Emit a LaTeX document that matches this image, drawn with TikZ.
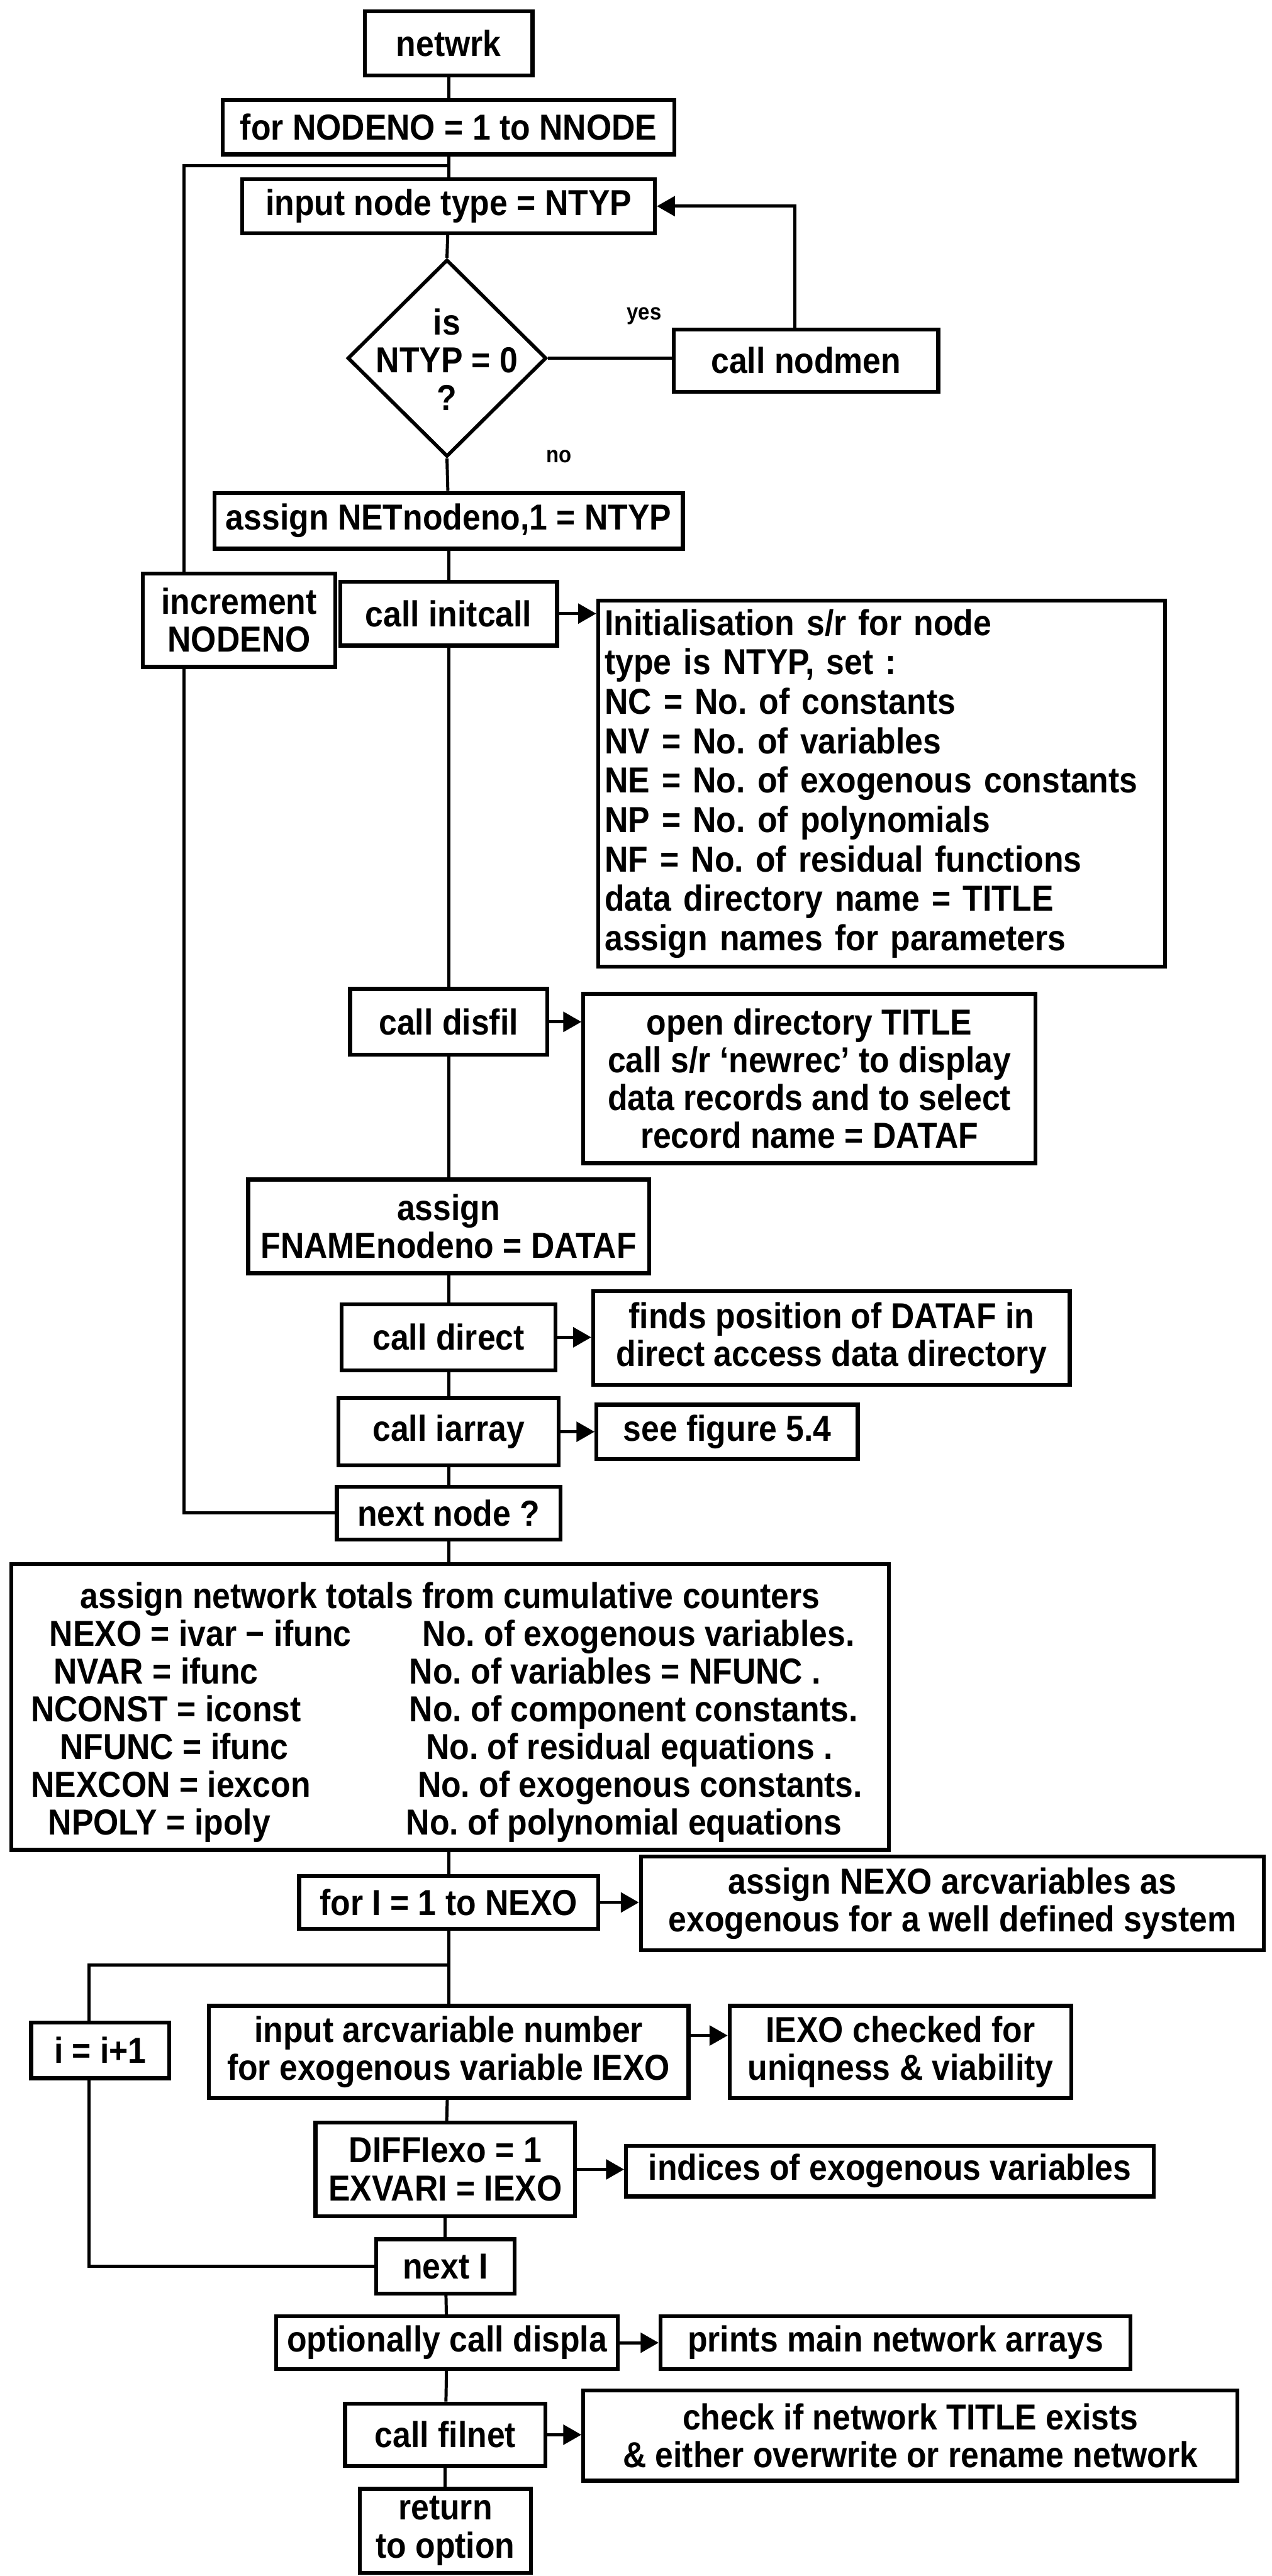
\documentclass[tikz,border=0pt]{standalone}
\usepackage{fontspec}
\newfontfamily\flow{Liberation Sans}[FakeStretch=0.9]
\usetikzlibrary{arrows.meta,shapes.geometric}
\begin{document}
\begin{tikzpicture}[x=1pt,y=-1pt,
  every node/.style={font=\flow\bfseries\frenchspacing\fontsize{22}{23}\selectfont},
  bx/.style={draw,line width=2.4pt,inner sep=2pt,align=center},
  ln/.style={line width=1.9pt},
  arr/.style={line width=1.9pt,-{Triangle[length=11pt,width=12pt]}},
  txt/.style={inner sep=0pt},
  lbl/.style={inner sep=0pt,font=\flow\bfseries\fontsize{14}{15}\selectfont},
]
\fill[white] (0,0) rectangle (774,1568);
\useasboundingbox (0,0) rectangle (774,1568);

% main column
\node[bx,minimum width=102pt,minimum height=39pt] (netwrk) at (273,26.5) {netwrk};
\node[bx,minimum width=275pt,minimum height=33pt] (forN) at (273,77.5) {for NODENO = 1 to NNODE};
\node[bx,minimum width=251pt,minimum height=33pt] (input) at (273,125.5) {input node type = NTYP};
\node[draw,line width=2.2pt,diamond,minimum width=121pt,minimum height=120pt,inner sep=0pt] (dia) at (272,218) {};
\node[txt,align=center] (diatext) at (272,219) {is\\NTYP = 0\\?};
\node[bx,minimum width=161pt,minimum height=38pt] (nodmen) at (490.5,219.5) {call nodmen};
\node[lbl] (yes) at (392,192.5) {yes};
\node[lbl] (no) at (340,278) {no};
\node[bx,minimum width=285pt,minimum height=34pt] (assignNET) at (273,317) {assign NETnodeno,1 = NTYP};
\node[bx,minimum width=117pt,minimum height=57pt] (incr) at (145.5,377.5) {increment\\NODENO};
\node[bx,minimum width=132pt,minimum height=39pt] (initcall) at (273,373.5) {call initcall};
\node[bx,minimum width=345pt,minimum height=223pt,inner sep=4pt,align=left,text width=337pt,
  font=\flow\bfseries\frenchspacing\fontsize{22}{24}\selectfont] (initbox) at (536.5,477)
  {Initialisation s/r for node\\type is NTYP, set :\\NC = No. of constants\\NV = No. of variables\\NE = No. of exogenous constants\\NP = No. of polynomials\\NF = No. of residual functions\\data directory name = TITLE\\assign names for parameters};
\node[bx,minimum width=120pt,minimum height=40pt] (disfil) at (273,622) {call disfil};
\node[bx,minimum width=275pt,minimum height=103pt] (opendir) at (492.5,656.5)
  {open directory TITLE\\call s/r ‘newrec’ to display\\data records and to select\\record name = DATAF};
\node[bx,minimum width=244pt,minimum height=57pt] (fname) at (273,746.5) {assign\\FNAMEnodeno = DATAF};
\node[bx,minimum width=130pt,minimum height=40pt] (direct) at (273,814) {call direct};
\node[bx,minimum width=290pt,minimum height=57pt] (finds) at (506,814.5) {finds position of DATAF in\\direct access data directory};
\node[bx,minimum width=134pt,minimum height=41pt] (iarray) at (273,871.5) {call iarray};
\node[bx,minimum width=159pt,minimum height=33pt] (seefig) at (442.5,871.5) {see figure 5.4};
\node[bx,minimum width=136pt,minimum height=32pt] (nextnode) at (273,921) {next node ?};

% totals box
\node[bx,minimum width=534pt,minimum height=174pt] (totals) at (274,1039) {};
\node[txt,anchor=base] (t0) at (274,979) {assign network totals from cumulative counters};
\node[txt,anchor=base] (l1) at (122,1002) {NEXO = ivar − ifunc};
\node[txt,anchor=base] (l2) at (95,1025) {NVAR = ifunc};
\node[txt,anchor=base] (l3t) at (101,1048) {NCONST = iconst};
\node[txt,anchor=base] (l4t) at (106,1071) {NFUNC = ifunc};
\node[txt,anchor=base] (l5t) at (104,1094) {NEXCON = iexcon};
\node[txt,anchor=base] (l6t) at (97,1117) {NPOLY = ipoly};
\node[txt,anchor=base west] (r1) at (257,1002) {No. of exogenous variables.};
\node[txt,anchor=base west] (r2) at (249,1025) {No. of variables = NFUNC .};
\node[txt,anchor=base west] (r3) at (249,1048) {No. of component constants.};
\node[txt,anchor=base west] (r4) at (259,1071) {No. of residual equations .};
\node[txt,anchor=base west] (r5) at (254,1094) {No. of exogenous constants.};
\node[txt,anchor=base west] (r6) at (247,1117) {No. of polynomial equations};

\node[bx,minimum width=182pt,minimum height=32pt] (forI) at (273,1158) {for I = 1 to NEXO};
\node[bx,minimum width=379pt,minimum height=57pt] (anexo) at (579.5,1158.5) {assign NEXO arcvariables as\\exogenous for a well defined system};
\node[bx,minimum width=84pt,minimum height=34pt] (iinc) at (61,1248) {i = i+1};
\node[bx,minimum width=292pt,minimum height=56pt] (inarc) at (273,1249) {input arcvariable number\\for exogenous variable IEXO};
\node[bx,minimum width=208pt,minimum height=56pt] (iexo) at (548,1249) {IEXO checked for\\uniqness \& viability};
\node[bx,minimum width=158pt,minimum height=57pt] (diff) at (271,1320.5) {DIFFIexo = 1\\EXVARI = IEXO};
\node[bx,minimum width=321pt,minimum height=31pt] (indices) at (541.5,1321.5) {indices of exogenous variables};
\node[bx,minimum width=84pt,minimum height=33pt] (nexti) at (271,1379.5) {next I};
\node[bx,minimum width=208pt,minimum height=32pt] (displa) at (272,1426) {optionally call displa};
\node[bx,minimum width=286pt,minimum height=32pt] (prints) at (545,1426) {prints main network arrays};
\node[bx,minimum width=122pt,minimum height=38pt] (filnet) at (271,1482) {call filnet};
\node[bx,minimum width=398pt,minimum height=55pt] (checkif) at (554,1482.5) {check if network TITLE exists\\\& either overwrite or rename network};
\node[bx,minimum width=104pt,minimum height=51pt] (ret) at (271,1540.5) {return\\to option};

% coordinates for loops
\coordinate (j1) at (273,101);
\coordinate (c1) at (112,101);
\coordinate (c2) at (112,921);
\coordinate (j2) at (272,1196);
\coordinate (c3) at (54,1196);
\coordinate (c4) at (54,1379.5);

% connectors
\draw[ln] (netwrk) -- (forN);
\draw[ln] (forN) -- (input);
\draw[ln] (j1) -- (c1) -- (c1 |- incr.north);
\draw[ln] (c1 |- incr.south) -- (c2) -- (nextnode.west);
\draw[ln] (input) -- (dia.north);
\draw[ln] (dia.east) -- (nodmen.west |- dia.east);
\draw[arr] ([xshift=-7pt]nodmen.north) |- (input.east);
\draw[ln] (dia.south) -- (assignNET);
\draw[ln] (assignNET) -- (initcall);
\draw[arr] (initcall.east) -- (initcall.east -| initbox.west);
\draw[ln] (initcall) -- (disfil);
\draw[arr] (disfil.east) -- (disfil.east -| opendir.west);
\draw[ln] (disfil) -- (fname);
\draw[ln] (fname) -- (direct);
\draw[arr] (direct.east) -- (direct.east -| finds.west);
\draw[ln] (direct) -- (iarray);
\draw[arr] (iarray.east) -- (iarray.east -| seefig.west);
\draw[ln] (iarray) -- (nextnode);
\draw[ln] (nextnode) -- (totals.north -| nextnode);
\draw[ln] (totals.south -| forI) -- (forI);
\draw[arr] (forI.east) -- (forI.east -| anexo.west);
\draw[ln] (forI) -- (inarc);
\draw[ln] (j2) -- (c3) -- (c3 |- iinc.north);
\draw[ln] (c3 |- iinc.south) -- (c4) -- (nexti.west);
\draw[arr] ([yshift=10pt]inarc.east) -- ([yshift=10pt]inarc.east -| iexo.west);
\draw[ln] (inarc) -- (diff);
\draw[arr] (diff.east) -- (diff.east -| indices.west);
\draw[ln] (diff) -- (nexti);
\draw[ln] (nexti) -- (displa);
\draw[arr] (displa.east) -- (displa.east -| prints.west);
\draw[ln] (displa) -- (filnet);
\draw[arr] (filnet.east) -- (filnet.east -| checkif.west);
\draw[ln] (filnet) -- (ret);
\end{tikzpicture}
\end{document}
